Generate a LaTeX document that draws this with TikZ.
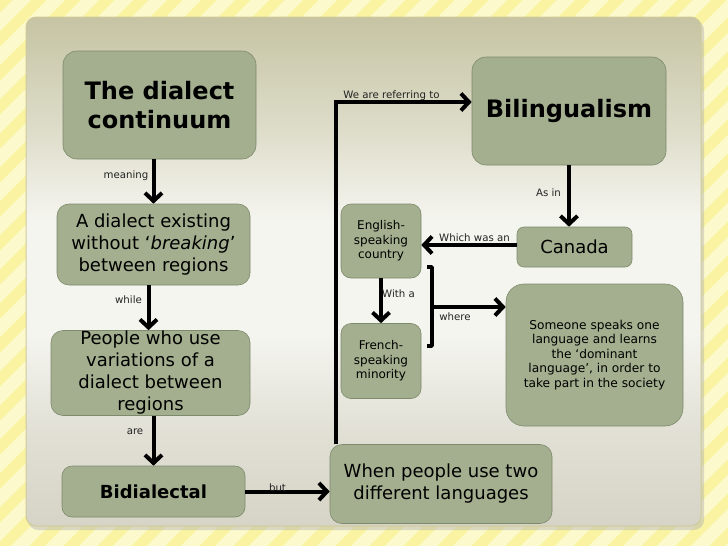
\documentclass[tikz,border=0pt]{standalone}
\usepackage{fontspec}
\setmainfont{DejaVu Sans}
\usetikzlibrary{arrows.meta,calc}
\definecolor{bgyellow}{HTML}{F9F3A2}
\definecolor{bgstripe}{HTML}{FCF9CC}
\definecolor{paneltop}{HTML}{C6C4A3}
\definecolor{panelmid}{HTML}{F5F5F0}
\definecolor{panelbot}{HTML}{D6D4C6}
\definecolor{paneledge}{HTML}{CFCB9A}
\definecolor{boxfill}{HTML}{A3AF8E}
\definecolor{boxborder}{HTML}{7E8A6C}
\definecolor{lbltext}{HTML}{222222}
% TikZ maps the path's box to 25bp--75bp of the shading (25bp = bottom)
\pgfdeclareverticalshading{panelshade}{100bp}{color(0bp)=(panelbot); color(25bp)=(panelbot); color(34bp)=(panelbot!65!panelmid); color(44bp)=(panelmid); color(55bp)=(panelmid); color(64bp)=(paneltop!50!panelmid); color(75bp)=(paneltop); color(100bp)=(paneltop)}
\tikzset{
  box/.style={draw=boxborder, fill=boxfill, rounded corners=14pt, align=center, line width=0.6pt, text=black, inner sep=1pt},
  arr/.style={line width=4pt, -{Straight Barb[length=8pt,width=17pt]}},
  lbl/.style={font=\fontsize{10.2}{12}\selectfont, text=lbltext, inner sep=0pt},
  bigbold/.style={font=\fontsize{24}{29}\selectfont\bfseries},
  mid/.style={font=\fontsize{18}{22}\selectfont},
  small/.style={font=\fontsize{12}{14.5}\selectfont},
  tiny/.style={font=\fontsize{12.2}{14.5}\selectfont}
}
\begin{document}
\begin{tikzpicture}[x=1pt,y=-1pt]
\useasboundingbox (0,0) rectangle (728,546);
% striped background
\fill[bgyellow] (0,0) rectangle (728,546);
\begin{scope}
\clip (0,0) rectangle (728,546);
\foreach \i in {-20,...,24} {
  \draw[bgstripe, line width=13pt] (\i*34,566) -- (\i*34+586,-20);
}
\end{scope}
% panel
\fill[black!30, opacity=0.45, rounded corners=10pt] (28,20) rectangle (704,530);
\shade[rounded corners=10pt, shading=panelshade, draw=paneledge, line width=1pt] (26,17) rectangle (701,526);

% nodes
\node[box, bigbold, minimum width=193pt, minimum height=108pt] (n1) at (159.5,105) {The dialect\\continuum};
\node[box, mid, minimum width=193pt, minimum height=81pt, rounded corners=12pt] (n2) at (153.5,244.5) {A dialect existing\\without ‘\textit{breaking}’\\between regions};
\node[box, mid, minimum width=199pt, minimum height=85pt, inner sep=0pt, rounded corners=12pt] (n3) at (150.5,373) {People who use\\variations of a\\dialect between\\regions};
\node[box, mid, font=\fontsize{18}{22}\selectfont\bfseries, minimum width=183pt, minimum height=51pt, rounded corners=10pt] (n4) at (153.5,491.5) {Bidialectal};
\node[box, mid, minimum width=222pt, minimum height=79pt, rounded corners=12pt] (n5) at (441,484) {When people use two\\different languages};
\node[box, bigbold, minimum width=194pt, minimum height=108pt] (n6) at (569,111) {Bilingualism};
\node[box, mid, minimum width=115pt, minimum height=40pt, rounded corners=7pt] (n7) at (574.5,247) {Canada};
\node[box, small, minimum width=80pt, minimum height=74pt, rounded corners=10pt] (n8) at (381,241) {English-\\speaking\\country};
\node[box, small, minimum width=80pt, minimum height=75pt, rounded corners=10pt] (n9) at (381,361) {French-\\speaking\\minority};
\node[box, tiny, minimum width=177pt, minimum height=142pt, rounded corners=18pt] (n10) at (594.5,355) {Someone speaks one\\language and learns\\the ‘dominant\\language’, in order to\\take part in the society};

% connectors
\coordinate (c7) at ([yshift=2pt]n7.west);
\coordinate (c5) at ([xshift=-105pt]n5.north);
\coordinate (c6) at ([yshift=9pt]n6.west);
\draw[arr] (n2.north |- n1.south) -- (n2.north);
\draw[arr] ([xshift=-5pt]n2.south) -- ([xshift=-5pt]n2.south |- n3.north);
\draw[arr] (n4.north |- n3.south) -- (n4.north);
\draw[arr] (n4.east) -- (n5.west |- n4.east);
\draw[arr] (c5) |- (c6);
\draw[arr] (n6.south) -- (n6.south |- n7.north);
\draw[arr] (c7) -- (n8.east |- c7);
\draw[arr] (n8.south) -- (n9.north);
% bracket
\coordinate (b1) at (427,267);
\coordinate (b2) at (432,267);
\coordinate (b3) at (432,346);
\coordinate (b4) at (427,346);
\coordinate (bm) at (432,307);
\draw[line width=3.5pt, line join=round] (b1) -- (b2) -- (b3) -- (b4);
\draw[arr] (bm) -- (n10.west |- bm);

% labels
\node[lbl] (l1) at (126,176) {meaning};
\node[lbl] (l2) at (128.5,300) {while};
\node[lbl] (l3) at (135,432) {are};
\node[lbl] (l4) at (277.5,488) {but};
\node[lbl] (l5) at (391.5,96) {We are referring to};
\node[lbl] (l6) at (548.5,193) {As in};
\node[lbl] (l7) at (474.5,238) {Which was an};
\node[lbl] (l8) at (398.5,294) {With a};
\node[lbl] (l9) at (455,317) {where};
\end{tikzpicture}
\end{document}
